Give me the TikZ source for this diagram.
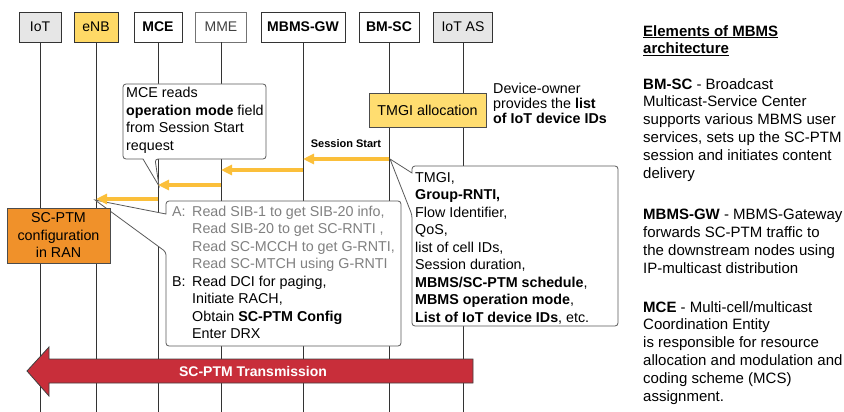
\documentclass[tikz,border=0pt]{standalone}
\usepackage{fontspec}
\setmainfont{Liberation Sans}
\usetikzlibrary{arrows.meta}
\definecolor{msgyellow}{HTML}{FBBF3A}
\definecolor{hdrgray}{HTML}{E6E6E6}
\definecolor{hdryellow}{HTML}{FFD966}
\definecolor{tmgiyellow}{HTML}{FFDD70}
\definecolor{ranorange}{HTML}{F0912A}
\definecolor{txred}{HTML}{C82E3A}
\definecolor{linegray}{HTML}{333333}
\definecolor{softgray}{HTML}{808080}
\begin{document}
\begin{tikzpicture}[x=1pt,y=-1pt,
  hdr/.style={draw=linegray, line width=0.8pt, minimum height=30pt, inner sep=0pt,
    font=\fontsize{14}{17}\selectfont},
  lifeline/.style={draw=linegray, line width=0.8pt},
  msgarrow/.style={draw=msgyellow, line width=3.5pt,
    -{Triangle[length=11pt,width=10pt]}},
  bubble/.style={draw=black!65, line width=0.8pt, fill=white, rounded corners=3pt},
  txt/.style={inner sep=0pt, align=left, font=\fontsize{14.3}{17.5}\selectfont},
  sidetxt/.style={inner sep=0pt, align=left, anchor=north west,
    font=\fontsize{15}{17.8}\selectfont}]
\useasboundingbox (0,0) rectangle (844,412);

% participants
\node[hdr, fill=hdrgray, minimum width=42pt] (iot) at (40,27) {IoT};
\node[hdr, fill=hdryellow, minimum width=44pt] (enb) at (96,27) {eNB};
\node[hdr, fill=white, minimum width=48pt] (mce) at (158,27) {\textbf{MCE}};
\node[hdr, fill=white, draw=black!55, text=black!75, minimum width=51pt] (mme) at (221,27) {MME};
\node[hdr, fill=white, minimum width=84pt] (gw) at (303,27) {\textbf{MBMS-GW}};
\node[hdr, fill=white, minimum width=60pt] (bmsc) at (389,27) {\textbf{BM-SC}};
\node[hdr, fill=hdrgray, minimum width=59pt] (iotas) at (463,27) {IoT AS};

% lifelines
\foreach \p in {iot,enb,mce,mme,gw,bmsc,iotas}
  \draw[lifeline] (\p.south) -- (\p.south |- 0,412);

% TMGI allocation at BM-SC
\node[draw=black!70, line width=0.8pt, fill=tmgiyellow, minimum width=117pt,
  minimum height=34pt, inner sep=0pt, font=\fontsize{14.3}{17}\selectfont]
  (tmgi) at (427.5,110) {TMGI allocation};
\node[txt, anchor=north west, font=\fontsize{14.3}{15}\selectfont] (owner) at (493,83)
  {Device-owner\\provides the \textbf{list}\\\textbf{of IoT device IDs}};

% note at MCE
\draw[bubble] (123,84) -- (266,84) -- (266,159) -- (155,159) [sharp corners] -- (159,186)
  -- (143,159) [rounded corners=3pt] -- (123,159) -- cycle;
\node[txt, anchor=north west] (mcenote) at (126,87)
  {MCE reads\\\textbf{operation mode} field\\from Session Start\\request};

% Session Start parameters
\draw[bubble] (412,166) -- (618,166) -- (618,326) -- (412,326) -- (412,215)
  [sharp corners] -- (390,159) -- (412,173) [rounded corners=3pt] -- cycle;
\node[txt, anchor=north west] (params) at (415,172)
  {TMGI,\\\textbf{Group-RNTI,}\\Flow Identifier,\\QoS,\\list of cell IDs,\\Session duration,\\
   \textbf{MBMS/SC-PTM schedule},\\\textbf{MBMS operation mode},\\
   \textbf{List of IoT device IDs}, etc.};

% device procedures
\draw[bubble] (166,201) -- (401,201) -- (401,346) -- (166,346) -- (166,252)
  [sharp corners] -- (95,200) -- (166,214) [rounded corners=3pt] -- cycle;
\node[txt, anchor=north west] (steps) at (172,204) {%
  \begin{tabular}{@{}l@{}l@{}}
  \color{softgray}\makebox[20pt][l]{A:} & \color{softgray}Read SIB-1 to get SIB-20 info,\\
  & \color{softgray}Read SIB-20 to get SC-RNTI ,\\
  & \color{softgray}Read SC-MCCH to get G-RNTI,\\
  & \color{softgray}Read SC-MTCH using G-RNTI\\
  \makebox[20pt][l]{B:} & Read DCI for paging,\\
  & Initiate RACH,\\
  & Obtain \textbf{SC-PTM Config}\\
  & Enter DRX
  \end{tabular}};

% RAN configuration
\node[draw=black!70, line width=0.8pt, fill=ranorange, minimum width=103pt,
  minimum height=55pt, inner sep=0pt, align=center,
  font=\fontsize{14.3}{17.5}\selectfont] (ran) at (58.5,235.5)
  {SC-PTM\\configuration\\in RAN};

% signalling
\draw[msgarrow] (bmsc |- 0,159) -- (gw |- 0,159);
\node[font=\bfseries\fontsize{11}{13}\selectfont, inner sep=0pt] (sslabel) at (346,144) {Session Start};
\draw[msgarrow] (gw |- 0,170) -- (mme |- 0,170);
\draw[msgarrow] (mme |- 0,185) -- (mce |- 0,185);
\draw[msgarrow] (mce |- 0,199) -- (enb |- 0,199);

% SC-PTM transmission
\draw[draw=black!75, line width=0.8pt, fill=txred]
  (27,371) -- (49,347) -- (49,359) -- (473,359) -- (473,383) -- (49,383) -- (49,396) -- cycle;
\node[text=white, font=\bfseries\fontsize{14}{16}\selectfont, inner sep=0pt] (txlabel)
  at (253,371) {SC-PTM Transmission};

% legend
\node[sidetxt] (legtitle) at (643,25)
  {\underline{\textbf{Elements of MBMS}}\\\underline{\textbf{architecture}}};
\node[sidetxt] (legbmsc) at (643,78)
  {\textbf{BM-SC} - Broadcast\\Multicast-Service Center\\supports various MBMS user\\
   services, sets up the SC-PTM\\session and initiates content\\delivery};
\node[sidetxt] (leggw) at (643,209)
  {\textbf{MBMS-GW} - MBMS-Gateway\\forwards SC-PTM traffic to\\the downstream nodes using\\
   IP-multicast distribution};
\node[sidetxt] (legmce) at (643,301)
  {\textbf{MCE} - Multi-cell/multicast\\Coordination Entity\\is responsible for resource\\
   allocation and modulation and\\coding scheme (MCS)\\assignment.};
\end{tikzpicture}
\end{document}
